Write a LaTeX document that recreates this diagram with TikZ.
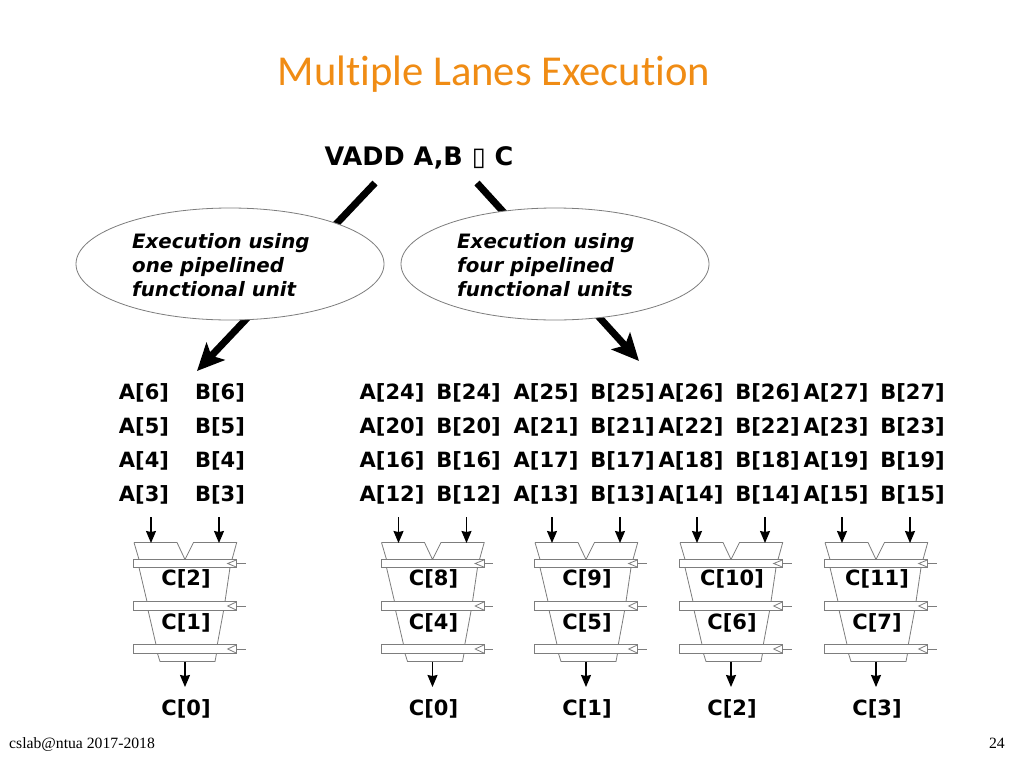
\documentclass[tikz,border=0pt]{standalone}
\usepackage{fontspec}
\setmainfont{DejaVu Sans}
\newfontfamily\titlefont[Ligatures=NoCommon]{Carlito}
\newfontfamily\footfont{Liberation Serif}
\usetikzlibrary{arrows.meta,shapes.geometric}
\definecolor{titleor}{RGB}{240,140,20}
\definecolor{pipegray}{RGB}{125,125,125}
\tikzset{
  lbl/.style={font=\fontsize{21}{24}\selectfont\bfseries,inner sep=0pt,text=black},
  ell/.style={draw=pipegray,fill=white,line width=0.8pt,ellipse,minimum width=308pt,minimum height=112pt,inner sep=0pt},
  elltxt/.style={font=\fontsize{19.8}{24}\selectfont\bfseries\itshape,align=left,inner sep=0pt,anchor=west},
  pipe/.style={draw=pipegray,line width=0.8pt,line join=miter},
  latch/.style={draw=pipegray,fill=white,line width=0.8pt},
  flow/.style={-{Stealth[length=12pt,width=10pt,inset=1pt]},line width=1.3pt,black},
  big/.style={-{Stealth[length=27pt,width=25pt,inset=6pt]},line width=7pt,black},
}
\newcommand{\pipeunit}[4]{%
\begin{scope}[xshift=#1pt]
  \draw[pipe] (134,-542.5) -- (177,-542.5) -- (185,-559.5) -- (193.5,-542.5) -- (236.7,-542.5) -- (232,-559.5);
  \draw[pipe] (134,-542.5) -- (139,-559.5);
  \draw[pipe] (139,-567.5) -- (147,-601.5);
  \draw[pipe] (230,-567.5) -- (225,-601.5);
  \draw[pipe] (148,-610) -- (156,-644.5);
  \draw[pipe] (223.7,-610) -- (217.3,-644.5);
  \draw[pipe] (157.5,-653.5) -- (160,-661.5) -- (215,-661.5) -- (216.5,-653.5);
  \foreach \yt/\yb in {559.5/567.5,601.5/610.5,644.5/653.5}{
    \draw[latch] (133.5,-\yt) rectangle (236.7,-\yb);
    \draw[pipe] (236.7,-\yt-0.3) -- (227.7,{-(\yt+\yb)/2}) -- (236.7,-\yb+0.3);
    \draw[pipe] (236.7,{-(\yt+\yb)/2}) -- (245.5,{-(\yt+\yb)/2});
  }
  \coordinate (#2a0) at (151,-517); \coordinate (#2a1) at (151,-543);
  \coordinate (#2b0) at (219,-517); \coordinate (#2b1) at (219,-543);
  \coordinate (#2o0) at (185,-661.5); \coordinate (#2o1) at (185,-687);
  \draw[flow] (#2a0) -- (#2a1);
  \draw[flow] (#2b0) -- (#2b1);
  \draw[flow] (#2o0) -- (#2o1);
  \node[lbl] (#2x) at (186,-579) {#3};
  \node[lbl] (#2y) at (186,-622.5) {#4};
\end{scope}}
\newcommand{\abrow}[5]{\node[lbl] at (#1,-#2) {A[#3]}; \node[lbl] at (#1+#5,-#2) {B[#4]};}
\begin{document}
\begin{tikzpicture}[x=1pt,y=1pt]
\useasboundingbox (0,0) rectangle (1024,-768);
\fill[white] (0,0) rectangle (1024,-768);
\node[font=\titlefont\fontsize{42.6}{48}\selectfont,text=titleor,inner sep=0pt] (title) at (494,-74) {Multiple Lanes Execution};
\node[font=\fontsize{25.5}{28}\selectfont\bfseries,inner sep=0pt] (vadd) at (419,-157.5) {VADD A,B {\mdseries ▯} C};
\coordinate (ls) at (375,-183); \coordinate (le) at (197,-371);
\coordinate (rs) at (477,-183); \coordinate (re) at (639,-361);
\draw[big] (ls) -- (le);
\draw[big] (rs) -- (re);
\node[ell] (e1) at (230,-264) {};
\node[ell] (e2) at (555,-264) {};
\node[elltxt] (t1) at (132,-265) {Execution using\\one pipelined\\functional unit};
\node[elltxt] (t2) at (457,-265) {Execution using\\four pipelined\\functional units};
\abrow{144}{392.5}{6}{6}{76}
\abrow{144}{426.5}{5}{5}{76}
\abrow{144}{460.5}{4}{4}{76}
\abrow{144}{494.5}{3}{3}{76}
\foreach \y/\a/\b/\c/\d in {392.5/24/25/26/27,426.5/20/21/22/23,460.5/16/17/18/19,494.5/12/13/14/15}{
  \node[lbl] at (392,-\y) {A[\a]}; \node[lbl] at (468.5,-\y) {B[\a]};
  \node[lbl] at (546,-\y) {A[\b]}; \node[lbl] at (622.5,-\y) {B[\b]};
  \node[lbl] at (691,-\y) {A[\c]}; \node[lbl] at (767.5,-\y) {B[\c]};
  \node[lbl] at (836,-\y) {A[\d]}; \node[lbl] at (912.5,-\y) {B[\d]};
}
\pipeunit{0}{u}{C[2]}{C[1]}
\pipeunit{247.5}{v}{C[8]}{C[4]}
\pipeunit{401}{w}{C[9]}{C[5]}
\pipeunit{546}{p}{C[10]}{C[6]}
\pipeunit{691}{q}{C[11]}{C[7]}
\node[lbl] (o0) at (186,-708.5) {C[0]};
\node[lbl] (o1) at (433.5,-708.5) {C[0]};
\node[lbl] (o2) at (587,-708.5) {C[1]};
\node[lbl] (o3) at (732,-708.5) {C[2]};
\node[lbl] (o4) at (877,-708.5) {C[3]};
\node[font=\footfont\fontsize{15.7}{18}\selectfont,anchor=west,inner sep=0pt] (foot) at (9,-745) {cslab@ntua 2017-2018};
\node[font=\footfont\fontsize{15.7}{18}\selectfont,anchor=east,inner sep=0pt] (pg) at (1005,-743) {24};
\end{tikzpicture}
\end{document}
